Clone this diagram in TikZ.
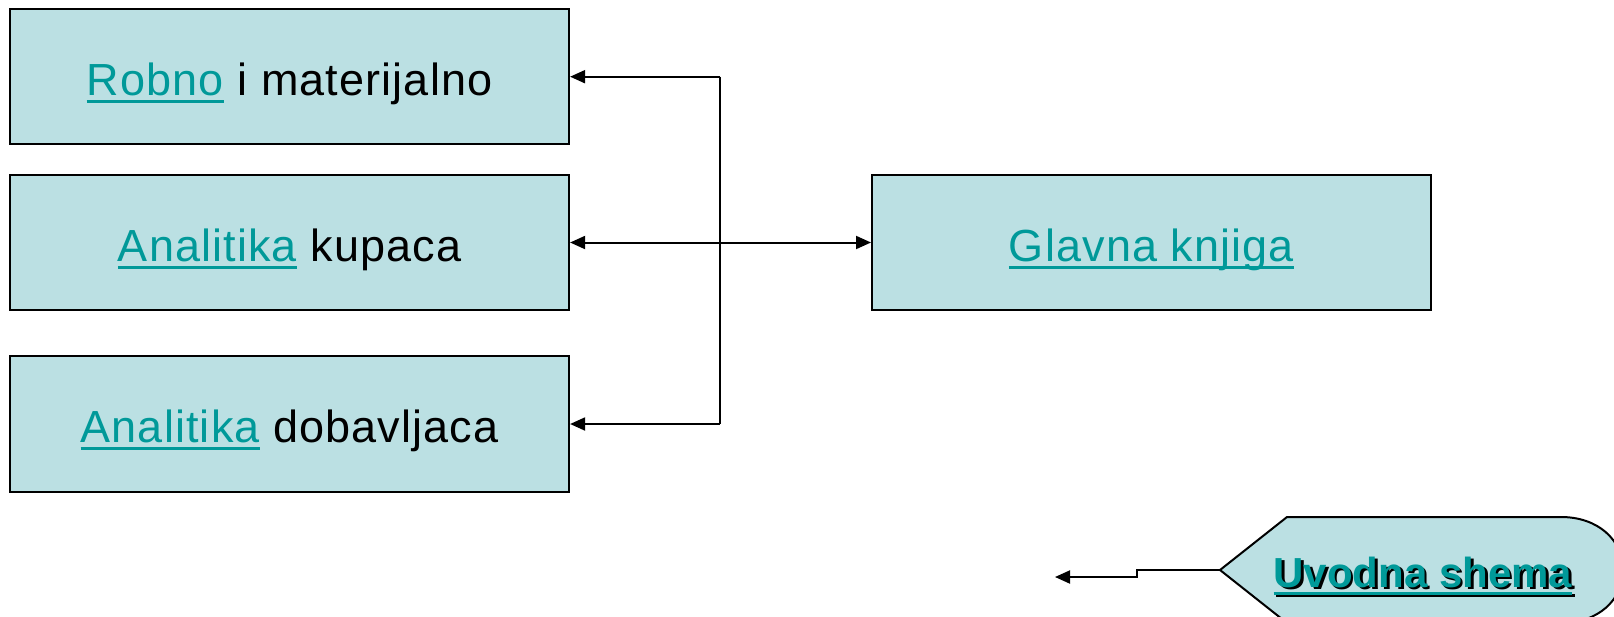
\documentclass[tikz,border=0pt]{standalone}
\usepackage{fontspec}
\setmainfont{Liberation Sans}
\newfontfamily\boxfont[LetterSpace=2.5]{Liberation Sans}
\usetikzlibrary{arrows.meta}
\definecolor{boxfill}{HTML}{BBE0E3}
\definecolor{linkteal}{HTML}{009999}
\newcommand\linkul[1]{\setbox0=\hbox{#1}\rlap{\rule[-7.5pt]{\wd0}{2.7pt}}\box0}
\newcommand\lnk[1]{{\color{linkteal}\linkul{#1}}}
\newcommand\shadowlnk[1]{\rlap{\kern2.5pt\raisebox{-2.5pt}{\color{black}\linkul{#1}}}{\color{linkteal}\linkul{#1}}}
\tikzset{
  box/.style={draw=black, line width=2pt, fill=boxfill, minimum width=559pt,
    minimum height=135pt, inner sep=0pt, text height=37pt, text depth=0pt,
    font=\boxfont\fontsize{45pt}{50pt}\selectfont},
  conn/.style={line width=2pt, draw=black},
  arr/.style={conn, -{Triangle[length=15pt,width=13pt]}},
  darr/.style={conn, {Triangle[length=15pt,width=13pt]}-{Triangle[length=15pt,width=13pt]}},
  btn/.style={draw=black, line width=2pt, fill=boxfill},
  btntext/.style={font=\fontsize{42pt}{48pt}\selectfont\bfseries, inner sep=0pt, anchor=base}
}
\begin{document}
\begin{tikzpicture}[x=1pt,y=-1pt]
\useasboundingbox (0,0) rectangle (1614,616);
\node[box] (b1) at (289.6,76.7) {\lnk{Robno} i materijalno};
\node[box] (b2) at (289.6,242.5) {\lnk{Analitika} kupaca};
\node[box, minimum height=136pt] (b3) at (289.6,424) {\lnk{Analitika} dobavljaca};
\node[box] (gk) at (1151.5,242.5) {\lnk{Glavna knjiga}};
\coordinate (jt) at (720,76.7);
\coordinate (jb) at (720,424);
\draw[conn] (jt) -- (jb);
\draw[arr] (jt) -- (b1.east);
\draw[arr] (jb) -- (b3.east);
\draw[darr] (b2.east) -- (gk.west);
% button
\coordinate (tip) at (1220,570);
\draw[btn] (tip) -- (1287,517) -- (1561,517) .. controls (1598,517) and (1623,540) .. (1623,570)
  .. controls (1623,600) and (1598,623) .. (1561,623) -- (1287,623) -- cycle;
\node[btntext] (uv) at (1423,587) {\shadowlnk{Uvodna shema}};
\coordinate (s1) at (1137,570);
\coordinate (s2) at (1137,577);
\coordinate (aend) at (1055,577);
\draw[arr] (tip) -- (s1) -- (s2) -- (aend);
\end{tikzpicture}
\end{document}
